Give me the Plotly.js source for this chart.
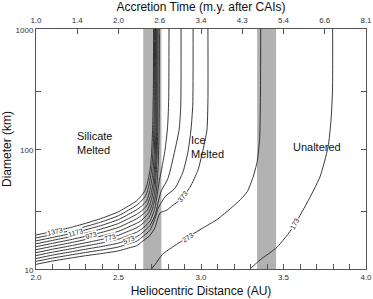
<!DOCTYPE html>
<html>
<head>
<meta charset="utf-8">
<script src="https://cdn.plot.ly/plotly-3.0.1.min.js"></script>
<style>html,body{margin:0;padding:0;background:#fff}#chart{width:373px;height:299px}</style>
</head>
<body>
<div id="chart"></div>
<script>
// Bottom axis: heliocentric distance (AU); top axis: accretion time (m.y. after CAIs)
const distTicks = [2.0, 2.5, 3.0, 3.5, 4.0];
const distTickText = ['2.0', '2.5', '3.0', '3.5', '4.0'];
const timeTickPos = [2.0, 2.25, 2.5, 2.75, 3.0, 3.25, 3.5, 3.75, 4.0];
const timeTickText = ['1.0', '1.4', '2.0', '2.6', '3.4', '4.3', '5.4', '6.6', '8.1'];
const diamTicks = [10, 30, 100, 300, 1000];
const diamTickText = ['10', '', '100', '', '1000'];

// Shaded zones (AU)
const bandStart = [2.65, 3.34];
const bandEnd = [2.76, 3.455];

// Peak-temperature contours (K): distance (AU) vs diameter (km)
const levels = [1373, 1273, 1173, 1073, 973, 873, 773, 673, 573, 473, 373, 273, 173];
const dist1373 = [2.0, 2.1, 2.2, 2.3, 2.4, 2.5, 2.56, 2.61, 2.64, 2.66, 2.675, 2.69, 2.70, 2.707, 2.711, 2.713];
const diam1373 = [19.2, 20.5, 22.0, 24.0, 26.5, 30.0, 33.5, 37.0, 41, 45, 52, 65, 90, 150, 300, 1000];
const dist1273 = [2.0, 2.1, 2.2, 2.3, 2.4, 2.5, 2.56, 2.61, 2.64, 2.665, 2.685, 2.70, 2.709, 2.715, 2.717, 2.719];
const diam1273 = [18.15, 19.38, 20.75, 22.56, 24.77, 27.83, 30.9, 33.94, 37, 41, 50, 66, 95, 160, 320, 1000];
const dist1173 = [2.0, 2.1, 2.2, 2.3, 2.4, 2.5, 2.56, 2.61, 2.64, 2.67, 2.69, 2.706, 2.716, 2.721, 2.723, 2.724];
const diam1173 = [17.16, 18.32, 19.58, 21.2, 23.15, 25.82, 28.51, 31.14, 33.5, 37, 45, 60, 90, 160, 320, 1000];
const dist1073 = [2.0, 2.1, 2.2, 2.3, 2.4, 2.5, 2.56, 2.61, 2.64, 2.67, 2.695, 2.712, 2.722, 2.727, 2.729];
const diam1073 = [16.22, 17.31, 18.47, 19.93, 21.63, 23.95, 26.3, 28.57, 30.5, 33.5, 41, 55, 85, 160, 1000];
const dist973 = [2.0, 2.1, 2.2, 2.3, 2.4, 2.5, 2.56, 2.61, 2.64, 2.675, 2.70, 2.716, 2.727, 2.732, 2.734];
const diam973 = [15.32, 16.36, 17.43, 18.73, 20.22, 22.22, 24.26, 26.21, 28, 31, 38, 50, 80, 150, 1000];
const dist873 = [2.0, 2.1, 2.2, 2.3, 2.4, 2.5, 2.56, 2.61, 2.64, 2.68, 2.705, 2.721, 2.732, 2.738, 2.740];
const diam873 = [14.48, 15.46, 16.44, 17.6, 18.89, 20.61, 22.38, 24.05, 25.5, 29, 35, 46, 75, 150, 1000];
const dist773 = [2.0, 2.1, 2.2, 2.3, 2.4, 2.5, 2.56, 2.61, 2.64, 2.685, 2.71, 2.728, 2.740, 2.746, 2.748];
const diam773 = [13.68, 14.61, 15.51, 16.54, 17.66, 19.12, 20.65, 22.06, 23.5, 27, 33, 43, 70, 140, 1000];
const dist673 = [2.0, 2.1, 2.2, 2.3, 2.4, 2.5, 2.56, 2.61, 2.64, 2.69, 2.72, 2.735, 2.748, 2.765, 2.782, 2.797, 2.804, 2.806];
const diam673 = [12.94, 13.81, 14.63, 15.55, 16.5, 17.73, 19.05, 20.24, 21.5, 25, 32, 42, 55, 72, 98, 150, 250, 1000];
const dist573 = [2.0, 2.1, 2.2, 2.3, 2.4, 2.5, 2.56, 2.61, 2.64, 2.69, 2.725, 2.742, 2.76, 2.80, 2.842, 2.867, 2.877, 2.879];
const diam573 = [12.23, 13.06, 13.8, 14.61, 15.42, 16.45, 17.57, 18.57, 19.8, 23, 29, 37, 45, 57, 98, 144, 220, 1000];
const dist473 = [2.0, 2.1, 2.2, 2.3, 2.4, 2.5, 2.56, 2.61, 2.64, 2.69, 2.72, 2.74, 2.782, 2.842, 2.891, 2.921, 2.939, 2.95, 2.952];
const diam473 = [11.56, 12.34, 13.02, 13.73, 14.41, 15.26, 16.21, 17.04, 18.3, 21, 26, 32, 40, 47, 64.5, 94.5, 144, 232, 1000];
const dist373 = [2.0, 2.1, 2.2, 2.3, 2.4, 2.5, 2.56, 2.61, 2.64, 2.69, 2.72, 2.752, 2.794, 2.83, 2.873, 2.933, 2.982, 3.012, 3.036, 3.042, 3.042];
const diam373 = [10.93, 11.66, 12.28, 12.9, 13.47, 14.16, 14.95, 15.63, 16.8, 19, 22, 29.3, 31, 34, 37.6, 48, 67, 98, 144, 256, 1000];
const dist273 = [2.70, 2.73, 2.765, 2.82, 2.915, 3.00, 3.10, 3.18, 3.24, 3.28, 3.315, 3.34, 3.355, 3.36, 3.362];
const diam273 = [10, 11.3, 13.2, 15, 18.2, 21.5, 26, 32, 38, 44, 58, 78, 120, 250, 1000];
const dist173 = [3.297, 3.358, 3.461, 3.558, 3.642, 3.721, 3.770, 3.788, 3.797, 3.798];
const diam173 = [10, 11.9, 15.2, 22.3, 35.5, 58.6, 104, 174, 310, 1000];

const curveDist = [dist1373, dist1273, dist1173, dist1073, dist973, dist873, dist773, dist673, dist573, dist473, dist373, dist273, dist173];
const curveDiam = [diam1373, diam1273, diam1173, diam1073, diam973, diam873, diam773, diam673, diam573, diam473, diam373, diam273, diam173];

// Contour labels: level text, distance, diameter, angle
const labelText = ['1373', '1173', '973', '773', '573', '373', '273', '173'];
const labelDist = [2.115, 2.242, 2.333, 2.45, 2.565, 2.89, 2.92, 3.57];
const labelDiam = [20.7, 20.3, 19.2, 18.4, 17.6, 40, 18.3, 23.8];
const labelAngle = [-13, -15, -17, -17, -22, -52, -32, -60];

// Region labels
const regionText = ['Silicate<br>Melted', 'Ice<br>Melted', 'Unaltered'];
const regionDist = [2.236, 2.927, 3.706];
const regionDiam = [112, 104, 103];
const regionAnchor = ['left', 'left', 'center'];

const traces = curveDist.map((xs, i) => ({
  x: xs, y: curveDiam[i], type: 'scatter', mode: 'lines',
  line: {color: '#222', width: 0.9, shape: 'spline', smoothing: 0.6},
  hoverinfo: 'skip', showlegend: false, name: levels[i] + ' K'
}));
traces.push({x: [2, 4], y: [10, 1000], xaxis: 'x2', type: 'scatter', mode: 'none', hoverinfo: 'skip', showlegend: false});

const shapes = bandStart.map((s, i) => ({
  type: 'rect', xref: 'x', yref: 'paper', x0: s, x1: bandEnd[i], y0: 0, y1: 1,
  fillcolor: '#b2b2b2', line: {width: 0}, layer: 'below'
}));

const annotations = labelText.map((t, i) => ({
  x: labelDist[i], y: Math.log10(labelDiam[i]), xref: 'x', yref: 'y', text: t,
  showarrow: false, textangle: labelAngle[i], font: {family: 'Liberation Sans, Arial, sans-serif', size: 7, color: '#222'},
  bgcolor: '#ffffff', borderpad: 0
})).concat(regionText.map((t, i) => ({
  x: regionDist[i], y: Math.log10(regionDiam[i]), xref: 'x', yref: 'y', text: t,
  showarrow: false, xanchor: regionAnchor[i], align: 'left',
  font: {family: 'Liberation Sans, Arial, sans-serif', size: 11, color: '#111'}
})));

const fontFam = 'Liberation Sans, Arial, sans-serif';
const layout = {
  width: 373, height: 299,
  margin: {l: 36, r: 7, t: 29, b: 30},
  paper_bgcolor: '#fff', plot_bgcolor: '#fff',
  font: {family: fontFam, color: '#222'},
  title: {text: 'Accretion Time (m.y. after CAIs)', x: 0.5, xref: 'paper', y: 0.977, yanchor: 'middle',
          font: {family: fontFam, size: 12, color: '#111'}},
  xaxis: {
    range: [2, 4], tickvals: distTicks, ticktext: distTickText,
    ticks: 'inside', ticklen: 5, tickcolor: '#555', tickfont: {size: 8, color: '#333'},
    minor: {tick0: 2, dtick: 0.1, ticks: 'inside', ticklen: 5, tickcolor: '#555'},
    showline: true, linecolor: '#555', linewidth: 1, mirror: true,
    showgrid: false, zeroline: false,
    title: {text: 'Heliocentric Distance (AU)', font: {size: 12, color: '#111'}, standoff: 6}
  },
  xaxis2: {
    overlaying: 'x', side: 'top', range: [2, 4], tickvals: timeTickPos, ticktext: timeTickText,
    ticks: 'inside', ticklen: 5, tickcolor: '#555', tickfont: {size: 8, color: '#333'},
    ticklabelstandoff: 3,
    showline: false, showgrid: false, zeroline: false
  },
  yaxis: {
    type: 'log', range: [1, 3], tickvals: diamTicks, ticktext: diamTickText,
    ticks: 'inside', ticklen: 5, tickcolor: '#555', tickfont: {size: 8, color: '#333'},
    ticklabelshift: 1,
    showline: true, linecolor: '#555', linewidth: 1, mirror: 'ticks',
    showgrid: false, zeroline: false,
    title: {text: 'Diameter (km)', font: {size: 12, color: '#111'}, standoff: 4}
  },
  shapes: shapes,
  annotations: annotations
};

Plotly.newPlot('chart', traces, layout, {staticPlot: true, displayModeBar: false});
</script>
</body>
</html>
